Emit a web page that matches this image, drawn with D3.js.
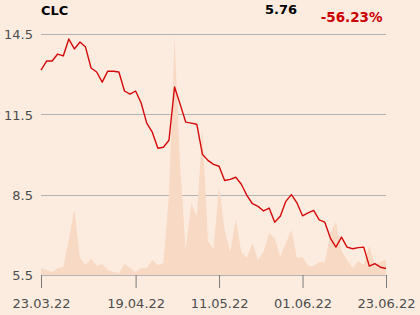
<!DOCTYPE html>
<html>
<head>
<meta charset="utf-8">
<script src="https://cdn.jsdelivr.net/npm/d3@7"></script>
<style>
  html, body { margin: 0; padding: 0; background: #fcece0; }
  svg { display: block; }
  text { font-family: "DejaVu Sans", sans-serif; }
</style>
</head>
<body>
<svg id="chart" width="420" height="315"></svg>
<script>
// ---- data ----
const symbol = "CLC";
const lastPrice = "5.76";
const changeText = "-56.23%";

const priceValues = [
  13.17, 13.51, 13.51, 13.77, 13.70, 14.33, 13.96, 14.22, 14.03, 13.25,
  13.10, 12.72, 13.13, 13.13, 13.10, 12.39, 12.27, 12.39, 11.94, 11.19,
  10.85, 10.25, 10.29, 10.55, 12.54, 11.90, 11.23, 11.19, 11.15, 10.03,
  9.80, 9.65, 9.58, 9.05, 9.09, 9.17, 8.91, 8.49, 8.18, 8.08,
  7.91, 8.02, 7.49, 7.71, 8.27, 8.52, 8.21, 7.73, 7.84, 7.93,
  7.58, 7.49, 6.90, 6.56, 6.93, 6.56, 6.50, 6.54, 6.56, 5.85,
  5.94, 5.81, 5.76
];

const volumeValues = [
  7, 5, 3, 7, 8, 35, 66, 17, 10, 16,
  9, 11, 5, 3, 2, 11, 7, 3, 7, 7,
  15, 10, 12, 80, 237, 110, 25, 72, 58, 147,
  34, 26, 89, 45, 23, 56, 23, 17, 32, 15,
  23, 42, 37, 18, 32, 45, 17, 18, 9, 9,
  13, 13, 42, 53, 24, 15, 7, 14, 10, 29,
  10, 13, 16
];

const xTickIndex = [0, 17, 32, 47, 62];
const xTickLabels = ["23.03.22", "19.04.22", "11.05.22", "01.06.22", "23.06.22"];
const yTickValues = [5.5, 8.5, 11.5, 14.5];

// ---- drawing ----
(function () {
const svg = d3.select("#chart");
const pLeft = 41, pRight = 386, pTop = 34.5, pBottom = 275.5;

const x = d3.scaleLinear().domain([0, priceValues.length - 1]).range([pLeft, pRight]);
const y = d3.scaleLinear().domain([5.5, 14.5]).range([pBottom, pTop]);
const yv = d3.scaleLinear().domain([0, 240]).range([pBottom - 0.5, 35]);

svg.append("rect").attr("width", 420).attr("height", 315).attr("fill", "#fcece0");

// gridlines
svg.append("g").selectAll("line").data(yTickValues).join("line")
  .attr("x1", pLeft).attr("x2", pRight)
  .attr("y1", d => Math.floor(y(d)) + 0.5)
  .attr("y2", d => Math.floor(y(d)) + 0.5)
  .attr("stroke", "#b3b3b3").attr("stroke-width", 1);

// volume area
const area = d3.area()
  .x((d, i) => x(i))
  .y0(yv(0))
  .y1(d => yv(d));
svg.append("path").datum(volumeValues)
  .attr("d", area)
  .attr("fill", "#f8d9c3");

// y labels
const yAxis = d3.axisLeft(y).tickValues(yTickValues).tickFormat(d3.format(".1f"))
  .tickSize(0).tickPadding(8);
const gy = svg.append("g").attr("transform", `translate(${pLeft},0)`).call(yAxis);
gy.select(".domain").remove();
gy.selectAll("text").attr("font-size", 13).attr("font-family", "DejaVu Sans, sans-serif")
  .attr("fill", "#4d4d4d");

// x axis
const xAxis = d3.axisBottom(x).tickValues(xTickIndex)
  .tickFormat((d, i) => xTickLabels[i]).tickSizeInner(13).tickSizeOuter(0).tickPadding(11);
const gx = svg.append("g").attr("transform", `translate(0,${pBottom - 0.5})`).call(xAxis);
gx.select(".domain").remove();
gx.selectAll("line").attr("stroke", "#7a7a7a");
gx.selectAll("text").attr("font-size", 13).attr("font-family", "DejaVu Sans, sans-serif")
  .attr("fill", "#4d4d4d");

// price line
const line = d3.line().x((d, i) => x(i)).y(d => y(d));
svg.append("path").datum(priceValues)
  .attr("d", line)
  .attr("fill", "none")
  .attr("stroke", "#d40a0a")
  .attr("stroke-width", 1.4)
  .attr("stroke-linejoin", "round");

// header
svg.append("text").attr("x", 41).attr("y", 15)
  .attr("font-size", 13).attr("font-weight", "bold").attr("fill", "#000")
  .text(symbol);
svg.append("text").attr("x", 297).attr("y", 14).attr("text-anchor", "end")
  .attr("font-size", 13).attr("font-weight", "bold").attr("fill", "#000")
  .text(lastPrice);
svg.append("text").attr("x", 382.5).attr("y", 21.5).attr("text-anchor", "end")
  .attr("font-size", 13.5).attr("font-weight", "bold").attr("fill", "#cc0000")
  .text(changeText);
})();
</script>
</body>
</html>
